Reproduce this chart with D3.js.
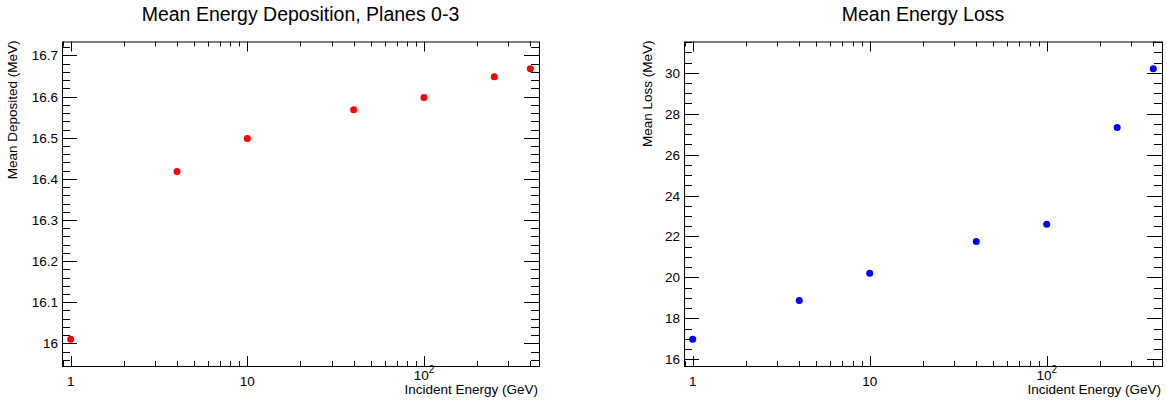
<!DOCTYPE html>
<html>
<head>
<meta charset="utf-8">
<script src="https://cdn.jsdelivr.net/npm/d3@7"></script>
<style>
  html, body { margin: 0; padding: 0; background: #fff; }
  svg { display: block; font-family: "Liberation Sans", Arial, sans-serif; }
</style>
</head>
<body>
<svg id="chart" width="1167" height="403"></svg>
<script>
// Incident beam energies (GeV)
const energies = [1, 4, 10, 40, 100, 250, 400];
// Mean energy deposited in planes 0-3 (MeV)
const meanDeposited = [16.01, 16.418, 16.498, 16.568, 16.598, 16.648, 16.668];
// Mean energy loss (MeV)
const meanLoss = [16.98, 18.87, 20.2, 21.76, 22.6, 27.33, 30.2];

const xTickLabels = ["1", "10", "10^2"];
const xTickValues = [1, 10, 100];

const panels = [
  {
    title: "Mean Energy Deposition, Planes 0-3",
    yTitle: "Mean Deposited (MeV)",
    values: meanDeposited,
    color: "#ff0000",
    left: 62, right: 539, yTitleX: 17,
    yDomain: [15.945, 16.734],
    yMajor: 0.1, yMinor: 0.02,
    yTickLabel: v => (Math.abs(v - Math.round(v)) < 1e-9 ? String(Math.round(v)) : d3.format(".1f")(v))
  },
  {
    title: "Mean Energy Loss",
    yTitle: "Mean Loss (MeV)",
    values: meanLoss,
    color: "#0000ff",
    left: 684, right: 1162, yTitleX: 652,
    yDomain: [15.67, 31.53],
    yMajor: 2, yMinor: 0.5,
    yTickLabel: v => String(Math.round(v))
  }
];

const frameTop = 41.5, frameBottom = 366;
const xDomain = [0.893, 448];
const svg = d3.select("#chart");

function stepRange(lo, hi, step) {
  const out = [];
  const start = Math.ceil(lo / step - 1e-9);
  const end = Math.floor(hi / step + 1e-9);
  for (let i = start; i <= end; i++) out.push(+(i * step).toFixed(6));
  return out;
}

panels.forEach(p => {
  const g = svg.append("g");
  const x = d3.scaleLog().domain(xDomain).range([p.left, p.right]);
  const y = d3.scaleLinear().domain(p.yDomain).range([frameBottom, frameTop]);

  // frame
  g.append("rect")
    .attr("x", p.left + 0.5).attr("y", frameTop + 0.5)
    .attr("width", p.right - p.left).attr("height", frameBottom - frameTop)
    .attr("fill", "none").attr("stroke", "#000").attr("stroke-width", 1);

  // y ticks (inside, mirrored on the right)
  const yMajors = stepRange(p.yDomain[0], p.yDomain[1], p.yMajor);
  const yMinors = stepRange(p.yDomain[0], p.yDomain[1], p.yMinor)
    .filter(v => !yMajors.some(m => Math.abs(m - v) < 1e-6));
  const yt = g.append("g").attr("stroke", "#000").attr("stroke-width", 1);
  yMajors.forEach(v => {
    const yy = Math.round(y(v)) + 0.5;
    yt.append("line").attr("x1", p.left).attr("x2", p.left + 15).attr("y1", yy).attr("y2", yy);
    yt.append("line").attr("x1", p.right).attr("x2", p.right - 15).attr("y1", yy).attr("y2", yy);
  });
  yMinors.forEach(v => {
    const yy = Math.round(y(v)) + 0.5;
    yt.append("line").attr("x1", p.left).attr("x2", p.left + 8).attr("y1", yy).attr("y2", yy);
    yt.append("line").attr("x1", p.right).attr("x2", p.right - 8).attr("y1", yy).attr("y2", yy);
  });
  g.append("g").selectAll("text").data(yMajors).join("text")
    .attr("x", p.left - 4).attr("y", v => y(v) + 5)
    .attr("text-anchor", "end").attr("font-size", 13.5).attr("fill", "#000")
    .text(p.yTickLabel);

  // x ticks on log scale
  const xMinors = [];
  for (let dec = 0.1; dec <= 1000; dec *= 10) {
    for (let k = 2; k <= 9; k++) {
      const v = +(k * dec).toPrecision(6);
      if (v >= xDomain[0] && v <= xDomain[1]) xMinors.push(v);
    }
  }
  const xt = g.append("g").attr("stroke", "#000").attr("stroke-width", 1);
  xTickValues.forEach(v => {
    const xx = Math.round(x(v)) + 0.5;
    xt.append("line").attr("x1", xx).attr("x2", xx).attr("y1", frameBottom).attr("y2", frameBottom - 10);
    xt.append("line").attr("x1", xx).attr("x2", xx).attr("y1", frameTop).attr("y2", frameTop + 10);
  });
  xMinors.forEach(v => {
    const xx = Math.round(x(v)) + 0.5;
    xt.append("line").attr("x1", xx).attr("x2", xx).attr("y1", frameBottom).attr("y2", frameBottom - 5);
    xt.append("line").attr("x1", xx).attr("x2", xx).attr("y1", frameTop).attr("y2", frameTop + 5);
  });
  xTickValues.forEach((v, i) => {
    const lab = xTickLabels[i];
    const t = g.append("text").attr("x", x(v)).attr("text-anchor", "middle")
      .attr("font-size", 13.5).attr("fill", "#000");
    if (lab.includes("^")) {
      const [base, exp] = lab.split("^");
      t.attr("y", 380);
      t.append("tspan").text(base);
      t.append("tspan").attr("font-size", 10).attr("dy", -7).text(exp);
    } else {
      t.attr("y", 386).text(lab);
    }
  });

  // axis titles
  g.append("text").attr("x", p.right - 1).attr("y", 394)
    .attr("text-anchor", "end").attr("font-size", 13.5).attr("fill", "#000")
    .text("Incident Energy (GeV)");
  g.append("text")
    .attr("transform", `translate(${p.yTitleX},${frameTop - 1}) rotate(-90)`)
    .attr("text-anchor", "end").attr("font-size", 13.5).attr("fill", "#000")
    .text(p.yTitle);

  // title
  g.append("text").attr("x", (p.left + p.right) / 2).attr("y", 21)
    .attr("text-anchor", "middle").attr("font-size", 19.5).attr("fill", "#000")
    .text(p.title);

  // markers
  g.append("g").selectAll("circle").data(energies).join("circle")
    .attr("cx", d => x(d)).attr("cy", (d, i) => y(p.values[i]))
    .attr("r", 3.5).attr("fill", p.color);
});
</script>
</body>
</html>
